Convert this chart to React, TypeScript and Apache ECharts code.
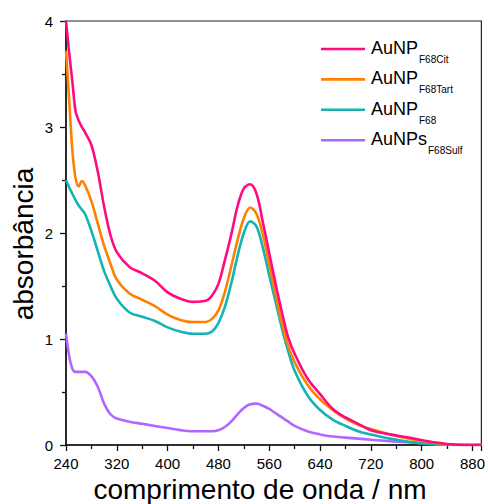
import React, { useEffect, useRef } from "react";
import * as echarts from "echarts";

const wavelengths = [240, 245, 250, 255, 260, 265, 270, 280, 290, 300, 310, 320, 340, 360, 380, 400, 420, 440, 460, 470, 480, 490, 500, 510, 520, 530, 540, 550, 560, 570, 580, 590, 600, 620, 640, 660, 680, 700, 720, 750, 780, 810, 840, 870, 894];

const auNPF68Cit = [4.0, 3.70, 3.43, 3.15, 3.06, 3.00, 2.95, 2.83, 2.58, 2.25, 1.98, 1.82, 1.68, 1.62, 1.55, 1.44, 1.38, 1.35, 1.36, 1.41, 1.52, 1.74, 1.98, 2.25, 2.42, 2.46, 2.37, 2.10, 1.81, 1.52, 1.25, 1.01, 0.86, 0.63, 0.48, 0.34, 0.26, 0.20, 0.14, 0.10, 0.07, 0.035, 0.01, 0, 0];
const auNPF68Tart = [3.72, 3.25, 2.78, 2.52, 2.44, 2.49, 2.45, 2.30, 2.09, 1.88, 1.71, 1.56, 1.43, 1.37, 1.31, 1.23, 1.18, 1.16, 1.16, 1.19, 1.27, 1.44, 1.68, 1.93, 2.14, 2.24, 2.18, 1.98, 1.70, 1.42, 1.15, 0.93, 0.78, 0.57, 0.43, 0.33, 0.25, 0.19, 0.15, 0.10, 0.06, 0.03, 0.005, 0, 0];
const auNPF68 = [2.50, 2.43, 2.37, 2.31, 2.26, 2.22, 2.18, 2.02, 1.83, 1.64, 1.50, 1.38, 1.25, 1.21, 1.17, 1.11, 1.07, 1.05, 1.05, 1.07, 1.15, 1.30, 1.52, 1.78, 2.00, 2.11, 2.06, 1.86, 1.60, 1.35, 1.10, 0.88, 0.70, 0.47, 0.33, 0.24, 0.18, 0.13, 0.10, 0.06, 0.03, 0.01, 0, 0, 0];
const auNPsF68Sulf = [1.05, 0.84, 0.72, 0.69, 0.69, 0.69, 0.69, 0.65, 0.55, 0.39, 0.29, 0.25, 0.22, 0.20, 0.18, 0.16, 0.14, 0.13, 0.13, 0.13, 0.14, 0.17, 0.22, 0.29, 0.35, 0.385, 0.39, 0.37, 0.34, 0.30, 0.26, 0.22, 0.18, 0.13, 0.10, 0.08, 0.07, 0.06, 0.05, 0.035, 0.025, 0.015, 0.005, 0, 0];

const seriesNames = ["AuNP", "AuNP", "AuNP", "AuNPs"];
const seriesSubs = ["F68Cit", "F68Tart", "F68", "F68Sulf"];
const seriesColors = ["#FF0A80", "#FF8000", "#14B4B4", "#B266FF"];
const seriesValues = [auNPF68Cit, auNPF68Tart, auNPF68, auNPsF68Sulf];

const xTitle = "comprimento de onda / nm";
const yTitle = "absorbância";

const FONT = "'Liberation Sans', Arial, sans-serif";

export default function App() {
  const ref = useRef<HTMLDivElement>(null);
  useEffect(() => {
    document.body.style.margin = "0";
    if (!ref.current) return;
    const chart = echarts.init(ref.current, null, { renderer: "svg" });

    const series = seriesValues.map((vals, i) => ({
      name: seriesNames[i] + seriesSubs[i],
      type: "line",
      data: wavelengths.map((w, j) => [w, vals[j]]),
      showSymbol: false,
      smooth: 0.35,
      z: 10 - i,
      lineStyle: { color: seriesColors[i], width: 2.6 },
      itemStyle: { color: seriesColors[i] },
    }));

    const legendGraphics: any[] = [];
    seriesValues.forEach((_, i) => {
      const cy = 49 + i * 30.4;
      legendGraphics.push({
        type: "line",
        shape: { x1: 321, y1: cy, x2: 365, y2: cy },
        style: { stroke: seriesColors[i], lineWidth: 2.6 },
      });
      legendGraphics.push({
        type: "text",
        x: 371,
        y: cy - 1,
        style: {
          text: `{a|${seriesNames[i]}}{b|${seriesSubs[i]}}`,
          verticalAlign: "middle",
          align: "left",
          rich: {
            a: { fontSize: 18, fontFamily: FONT, fill: "#000", lineHeight: 20 },
            b: { fontSize: 10, fontFamily: FONT, fill: "#000", lineHeight: 10, padding: [23, 0, 0, 1] },
          },
        },
      });
    });

    chart.setOption({
      animation: false,
      backgroundColor: "#fff",
      grid: {
        left: 66,
        right: 2,
        top: 21,
        bottom: 59,
        show: true,
        borderColor: "#222",
        borderWidth: 1.2,
        backgroundColor: "transparent",
      },
      xAxis: {
        type: "value",
        min: 240,
        max: 894,
        interval: 80,
        axisLine: { show: true, onZero: false, lineStyle: { color: "#111", width: 1.5 } },
        axisTick: { show: true, inside: false, length: 6, lineStyle: { color: "#111", width: 1.3 } },
        minorTick: { show: true, splitNumber: 2, length: 4, lineStyle: { color: "#111", width: 1.3 } },
        axisLabel: { fontSize: 15, color: "#000", fontFamily: FONT, margin: 11, showMaxLabel: false },
        splitLine: { show: false },
      },
      yAxis: {
        type: "value",
        min: 0,
        max: 4,
        interval: 1,
        axisLine: { show: true, onZero: false, lineStyle: { color: "#111", width: 1.5 } },
        axisTick: { show: true, inside: false, length: 6, lineStyle: { color: "#111", width: 1.3 } },
        minorTick: { show: true, splitNumber: 2, length: 4, lineStyle: { color: "#111", width: 1.3 } },
        axisLabel: { fontSize: 15, color: "#000", fontFamily: FONT, margin: 13 },
        splitLine: { show: false },
      },
      series,
      graphic: [
        ...legendGraphics,
        {
          type: "text",
          x: 260,
          y: 489,
          style: { text: xTitle, fontSize: 28, fontFamily: FONT, fill: "#000", align: "center", verticalAlign: "middle" },
        },
        {
          type: "text",
          x: 23,
          y: 244,
          rotation: Math.PI / 2,
          style: { text: yTitle, fontSize: 28, fontFamily: FONT, fill: "#000", align: "center", verticalAlign: "middle" },
        },
      ],
    });
    return () => chart.dispose();
  }, []);
  return <div ref={ref} style={{ width: 488, height: 504 }} />;
}
